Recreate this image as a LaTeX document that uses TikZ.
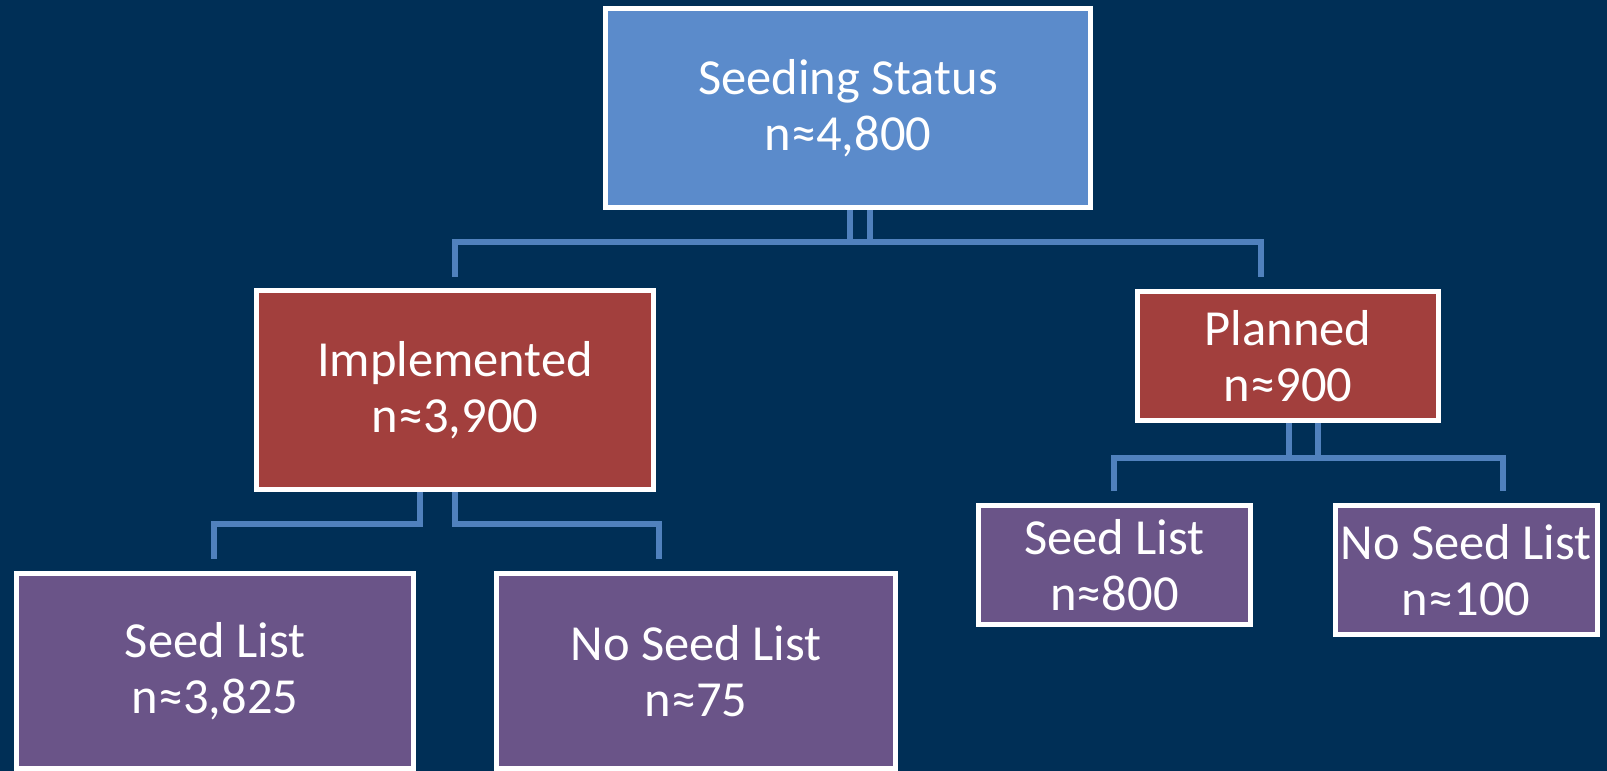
\documentclass[tikz,border=0pt]{standalone}
\usepackage{fontspec}
\setmainfont{Carlito}
\definecolor{bgcol}{HTML}{002F56}
\definecolor{topcol}{HTML}{5B8BCB}
\definecolor{redcol}{HTML}{A23F3D}
\definecolor{purcol}{HTML}{6A5488}
\definecolor{conncol}{HTML}{5081BD}
\begin{document}
\begin{tikzpicture}[x=1pt,y=1pt,
  box/.style={draw=white,line width=5pt,inner sep=0pt,align=center,text=white,
    font=\fontsize{50.5}{56}\selectfont},
  topbox/.style={box,fill=topcol},
  redbox/.style={box,fill=redcol},
  purbox/.style={box,fill=purcol},
  conn/.style={draw=conncol,line width=5.5pt,line join=miter}]
\fill[bgcol] (0,0) rectangle (1607,-771);
\useasboundingbox (0,0) rectangle (1607,-771);

\coordinate (b1) at (0,-242);
\coordinate (d1) at (455,-277);
\coordinate (d2) at (1261,-277);
\coordinate (b2) at (0,-524);
\coordinate (d3) at (214,-559);
\coordinate (d4) at (659,-559);
\coordinate (b3) at (0,-458);
\coordinate (d5) at (1114,-491);
\coordinate (d6) at (1503,-491);

\node[topbox,minimum width=485pt,minimum height=199pt] (top) at (848,-108) {Seeding Status\\n≈4,800};
\node[redbox,minimum width=397pt,minimum height=199pt] (impl) at (455,-390) {Implemented\\n≈3,900};
\node[redbox,minimum width=301pt,minimum height=129pt] (plan) at (1288,-356) {Planned\\n≈900};

\draw[conn] ([xshift=22pt]top.south) |- (b1 -| d1) -- (d1);
\draw[conn] ([xshift=2pt]top.south) |- (b1 -| d2) -- (d2);
\draw[conn] ([xshift=-35pt]impl.south) |- (b2 -| d3) -- (d3);
\draw[conn] (impl.south) |- (b2 -| d4) -- (d4);
\draw[conn] ([xshift=30pt]plan.south) |- (b3 -| d5) -- (d5);
\draw[conn] ([xshift=1pt]plan.south) |- (b3 -| d6) -- (d6);

\node[purbox,minimum width=397pt,minimum height=195pt] (sl1) at (215,-671) {Seed List\\n≈3,825};
\node[purbox,minimum width=399pt,minimum height=195pt] (ns1) at (696,-671) {No Seed List\\n≈75};
\node[purbox,minimum width=272pt,minimum height=119pt] (sl2) at (1114.5,-565) {Seed List\\n≈800};
\node[purbox,minimum width=262pt,minimum height=129pt] (ns2) at (1466,-570) {No Seed List\\n≈100};
\end{tikzpicture}
\end{document}
